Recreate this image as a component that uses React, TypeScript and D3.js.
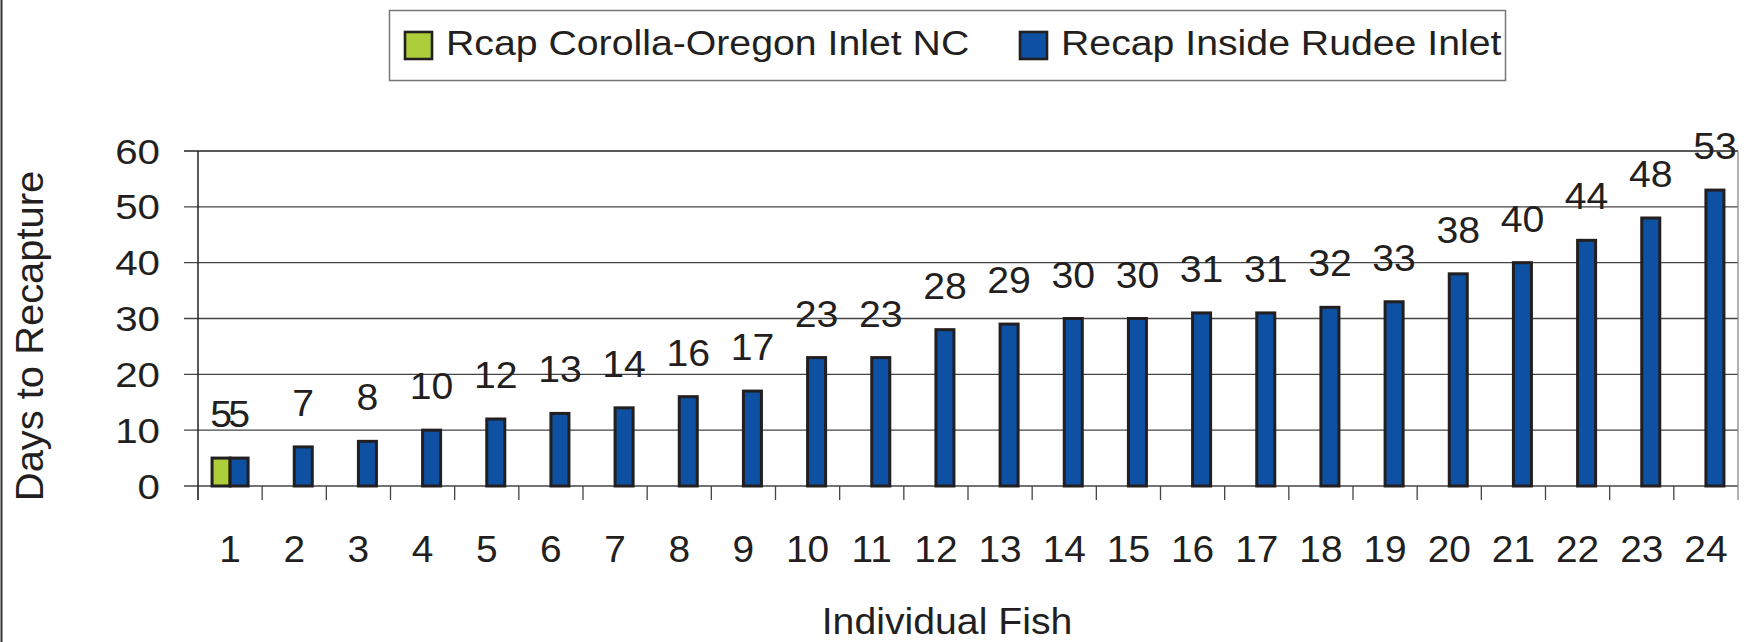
import React from "react";
import * as d3 from "d3";

const fish = ["1","2","3","4","5","6","7","8","9","10","11","12","13","14","15","16","17","18","19","20","21","22","23","24"];
const corolla: (number | null)[] = [5, null, null, null, null, null, null, null, null, null, null, null, null, null, null, null, null, null, null, null, null, null, null, null];
const rudee: number[] = [5, 7, 8, 10, 12, 13, 14, 16, 17, 23, 23, 28, 29, 30, 30, 31, 31, 32, 33, 38, 40, 44, 48, 53];
const seriesNames = ["Rcap Corolla-Oregon Inlet NC", "Recap Inside Rudee Inlet"];
const seriesKeys = ["corolla", "rudee"];
const yTicks = [0, 10, 20, 30, 40, 50, 60];

const W = 1748, H = 642;
const FONT = "'Liberation Sans', Arial, Helvetica, sans-serif";
const TXT = "#231F20";
const GREEN = "#AECD3A";
const BLUE = "#0E50A2";

export default function App() {
  const left = 198, right = 1738, top = 151, bottom = 486;
  const x = d3.scaleBand<string>().domain(fish).range([left, right]).paddingInner(0).paddingOuter(0);
  const sub = d3.scaleBand<string>().domain(seriesKeys).range([0, x.bandwidth()]).paddingInner(0).paddingOuter(0.78);
  const y = d3.scaleLinear().domain([0, 60]).range([bottom, top]);
  const colors: Record<string, string> = { corolla: GREEN, rudee: BLUE };
  const data: Record<string, (number | null)[]> = { corolla, rudee };

  const txt = (s: string, tx: number, ty: number, size: number, sx: number, anchor: string, key?: string, rot = 0) => (
    <text
      key={key}
      transform={`translate(${tx},${ty}) rotate(${rot}) scale(${sx},1)`}
      textAnchor={anchor as any}
      fontFamily={FONT}
      fontSize={size}
      fill={TXT}
    >
      {s}
    </text>
  );

  return (
    <svg width={W} height={H} style={{ position: "absolute", left: 0, top: 0, display: "block", background: "#fff" }}>
      <rect x={0} y={0} width={W} height={H} fill="#fff" />
      {/* outer border left */}
      <line x1={1.5} x2={1.5} y1={0} y2={H} stroke="#333" strokeWidth={2} />

      {/* legend */}
      <rect x={389.5} y={10.5} width={1116} height={70} fill="#fff" stroke="#777" strokeWidth={1.5} />
      <rect x={405} y={32} width={27} height={27} fill={GREEN} stroke={TXT} strokeWidth={2.6} />
      {txt(seriesNames[0], 446, 55, 36, 1.09, "start")}
      <rect x={1020} y={32} width={27} height={27} fill={BLUE} stroke={TXT} strokeWidth={2.6} />
      {txt(seriesNames[1], 1061, 55, 36, 1.09, "start")}

      {/* gridlines */}
      {yTicks.map((t) => (
        <line key={"g" + t} x1={184} x2={right} y1={y(t)} y2={y(t)} stroke={t === 60 ? "#222" : "#444"} strokeWidth={1.3} />
      ))}
      {/* right border */}
      <line x1={right} x2={right} y1={top} y2={bottom + 14} stroke="#888" strokeWidth={1.3} />
      {/* y axis */}
      <line x1={left} x2={left} y1={top} y2={bottom + 14} stroke="#222" strokeWidth={1.5} />
      {/* category ticks */}
      {fish.map((f) => (
        <line key={"t" + f} x1={x(f)!} x2={x(f)!} y1={bottom} y2={bottom + 14} stroke="#444" strokeWidth={1.3} />
      ))}

      {/* y tick labels */}
      {yTicks.map((t) => txt(String(t), 160, y(t) + 12.5, 36, 1.12, "end", "yl" + t))}

      {/* bars */}
      {seriesKeys.map((k) =>
        fish.map((f, i) => {
          const v = data[k][i];
          if (v == null) return null;
          const bx = x(f)! + sub(k)!;
          return (
            <rect key={k + f} x={bx} y={y(v)} width={sub.bandwidth()} height={y(0) - y(v)} fill={colors[k]} stroke={TXT} strokeWidth={3} />
          );
        })
      )}

      {/* data labels */}
      {seriesKeys.map((k) =>
        fish.map((f, i) => {
          const v = data[k][i];
          if (v == null) return null;
          const cx = x(f)! + sub(k)! + sub.bandwidth() / 2;
          return txt(String(v), cx, y(v) - 31, 37, 1.06, "middle", "dl" + k + f);
        })
      )}

      {/* x tick labels */}
      {fish.map((f) => txt(f, x(f)! + x.bandwidth() / 2, 562, 37, 1.05, "middle", "xl" + f))}

      {/* axis titles */}
      {txt("Individual Fish", 947, 634, 37, 1.06, "middle")}
      {txt("Days to Recapture", 43, 336, 38, 1.05, "middle", undefined, -90)}
    </svg>
  );
}
